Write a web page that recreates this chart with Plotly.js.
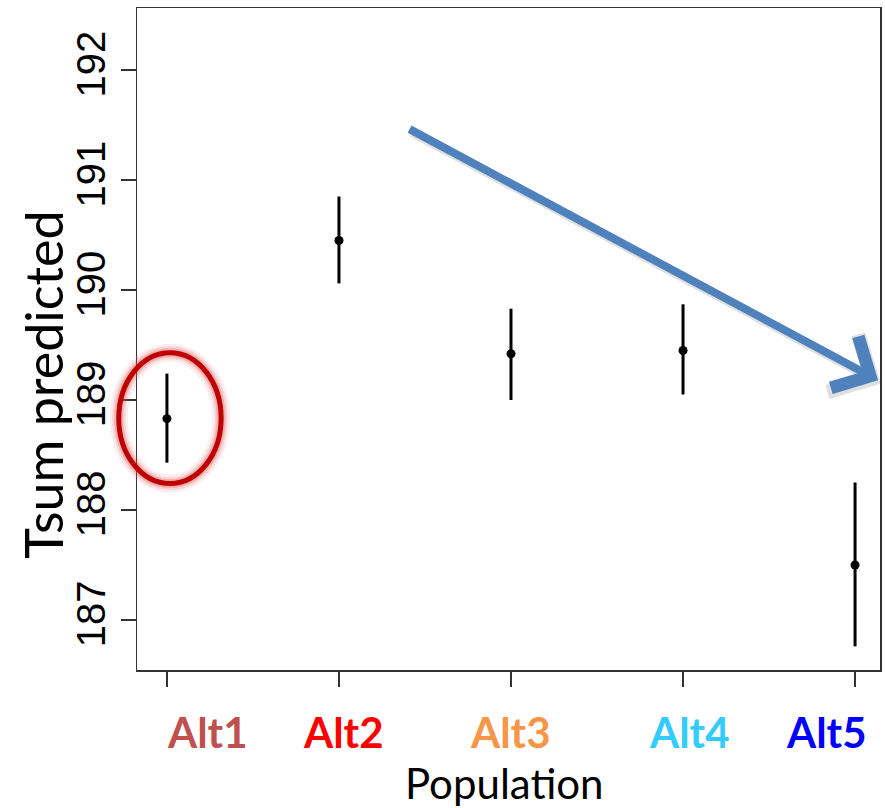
<!DOCTYPE html>
<html>
<head>
<meta charset="utf-8">
<script src="https://cdn.plot.ly/plotly-3.0.1.min.js"></script>
<style>html,body{margin:0;padding:0;background:#fff;}#chart{width:885px;height:808px;}</style>
</head>
<body>
<div id="chart"></div>
<script>
// ---- data ----
const categories = ['Alt1', 'Alt2', 'Alt3', 'Alt4', 'Alt5'];
const xPos = [1, 2, 3, 4, 5];
const meanVals = [188.83, 190.45, 189.42, 189.45, 187.50];
const lowerVals = [188.43, 190.06, 189.00, 189.05, 186.76];
const upperVals = [189.24, 190.85, 189.83, 189.87, 188.25];
const yTickVals = [187, 188, 189, 190, 191, 192];
const labelColors = ['#C0504D', '#FF0000', '#F79646', '#33CCFF', '#0000FF'];
const xTitle = 'Population';
const yTitle = 'Tsum predicted';

// ---- layout helpers (positions, not data) ----
const xRange = [0.826, 5.145];
const yRange = [186.545, 192.564];
const labelX = [1.233, 2.029, 3.0, 4.035, 4.832];
const px = v => (v - xRange[0]) / (xRange[1] - xRange[0]);
const py = v => (v - yRange[0]) / (yRange[1] - yRange[0]);

const errPlus = upperVals.map((u, i) => u - meanVals[i]);
const errMinus = lowerVals.map((l, i) => meanVals[i] - l);

const trace = {
  type: 'scatter',
  mode: 'markers',
  x: xPos,
  y: meanVals,
  text: categories,
  marker: {color: '#000', size: 9},
  error_y: {type: 'data', symmetric: false, array: errPlus, arrayminus: errMinus,
            color: '#000', thickness: 3, width: 0},
  hoverinfo: 'text+y',
  showlegend: false
};

// ellipse around Alt1
const ex0 = px(xPos[0] - 0.28), ex1 = px(xPos[0] + 0.315);
const ey0 = py(meanVals[0] - 0.59), ey1 = py(meanVals[0] + 0.60);
const glow = [[18, 'rgba(225,90,90,0.10)'], [13, 'rgba(225,90,90,0.16)'], [9, 'rgba(215,70,70,0.25)']];
const shapes = glow.map(g => ({type: 'circle', xref: 'paper', yref: 'paper',
  x0: ex0, x1: ex1, y0: ey0, y1: ey1, line: {color: g[1], width: g[0]}, layer: 'above'}));
shapes.push({type: 'circle', xref: 'paper', yref: 'paper', x0: ex0, x1: ex1, y0: ey0, y1: ey1,
  line: {color: '#C00000', width: 5}, layer: 'above'});

const titleFont = 'Lato, "Open Sans", sans-serif';
const annotations = categories.map((c, i) => ({
  x: labelX[i], xref: 'x', y: -0.0937, yref: 'paper', text: '<b>' + c + '</b>',
  showarrow: false, xanchor: 'center', yanchor: 'middle',
  font: {family: titleFont, size: 42, color: labelColors[i]}
}));

// axis titles
annotations.push({x: 0.494, y: -0.1707, xref: 'paper', yref: 'paper', text: xTitle,
  showarrow: false, xanchor: 'center', yanchor: 'middle',
  font: {family: titleFont, size: 42, color: '#000'}});
annotations.push({x: -0.127, y: 0.4305, xref: 'paper', yref: 'paper', text: yTitle,
  textangle: -90, showarrow: false, xanchor: 'center', yanchor: 'middle',
  font: {family: titleFont, size: 52, color: '#000'}});

// arrow shadow and arrow
annotations.push({x: 5.134 + 0.015, y: 189.18 - 0.03, xref: 'x', yref: 'y',
  ax: 2.402 + 0.015, ay: 191.47 - 0.03, axref: 'x', ayref: 'y', text: '',
  showarrow: true, arrowhead: 4, arrowsize: 1.4, arrowwidth: 9, arrowcolor: 'rgba(0,0,0,0.12)'});
annotations.push({x: 5.134, y: 189.18, xref: 'x', yref: 'y',
  ax: 2.402, ay: 191.47, axref: 'x', ayref: 'y', text: '',
  showarrow: true, arrowhead: 4, arrowsize: 1.4, arrowwidth: 8, arrowcolor: '#4F81BD'});

const layout = {
  width: 885, height: 808,
  margin: {l: 137, r: 5, t: 8, b: 138},
  paper_bgcolor: '#fff', plot_bgcolor: '#fff',
  xaxis: {
    range: xRange, tickvals: xPos, showticklabels: false,
    ticks: 'outside', ticklen: 15, tickwidth: 1.5, tickcolor: '#333',
    showline: true, linecolor: '#333', linewidth: 1.5, mirror: true,
    showgrid: false, zeroline: false
  },
  yaxis: {
    range: yRange, tickvals: yTickVals, ticktext: yTickVals.map(String),
    tickangle: -90, ticks: 'outside', ticklen: 15, tickwidth: 1.5, tickcolor: '#333',
    tickfont: {family: '"Liberation Sans", Arial, sans-serif', size: 40, color: '#000'},
    showline: true, linecolor: '#333', linewidth: 1.5, mirror: true,
    showgrid: false, zeroline: false
  },
  shapes: shapes,
  annotations: annotations,
  showlegend: false
};

Plotly.newPlot('chart', [trace], layout, {displayModeBar: false, staticPlot: true});
</script>
</body>
</html>
